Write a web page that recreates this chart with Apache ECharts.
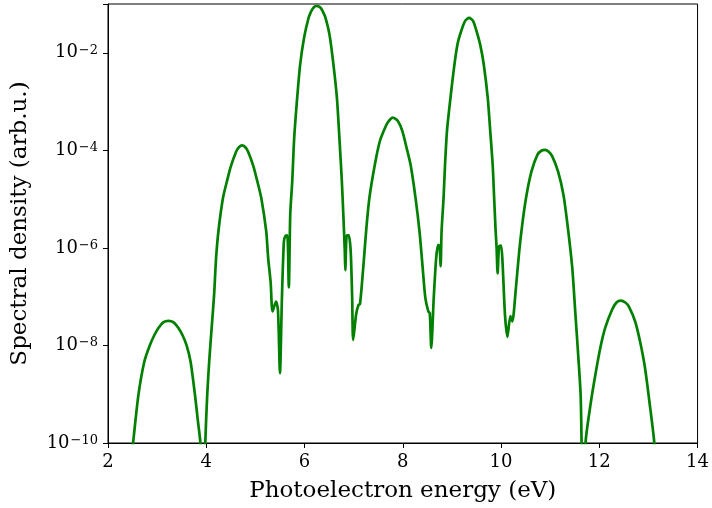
<!DOCTYPE html>
<html>
<head>
<meta charset="utf-8">
<script src="https://cdn.jsdelivr.net/npm/echarts@6/dist/echarts.min.js"></script>
<style>
  html, body { margin: 0; padding: 0; background: #ffffff; }
  #chart { width: 712px; height: 508px; }
</style>
</head>
<body>
<div id="chart"></div>
<script>
// Photoelectron energy (eV)
const energy = [
  2.40, 2.51, 2.62, 2.74, 2.85, 2.94, 3.03, 3.13, 3.23, 3.33, 3.43, 3.52, 3.60, 3.68, 3.77, 3.83, 3.88, 3.93,
  3.98, 4.02, 4.06, 4.11, 4.16, 4.20, 4.25, 4.34, 4.42, 4.50, 4.61, 4.67, 4.73, 4.79, 4.85, 4.96, 5.04, 5.12,
  5.22, 5.26, 5.31, 5.35, 5.42, 5.46, 5.50, 5.54, 5.58, 5.61, 5.65, 5.68, 5.71, 5.75, 5.79, 5.85, 5.91, 5.99,
  6.08, 6.13, 6.17, 6.21, 6.25, 6.29, 6.33, 6.37, 6.42, 6.51, 6.59, 6.66, 6.71, 6.76, 6.79, 6.82, 6.83, 6.86,
  6.90, 6.94, 6.97, 6.99, 7.05, 7.10, 7.13, 7.20, 7.26, 7.32, 7.43, 7.53, 7.62, 7.70, 7.80, 7.90, 7.99, 8.08,
  8.16, 8.26, 8.34, 8.40, 8.46, 8.52, 8.55, 8.58, 8.63, 8.68, 8.72, 8.75, 8.77, 8.79, 8.83, 8.86, 8.90, 8.97,
  9.05, 9.12, 9.19, 9.27, 9.35, 9.43, 9.50, 9.58, 9.65, 9.73, 9.78, 9.83, 9.86, 9.89, 9.91, 9.93, 9.96, 10.00,
  10.03, 10.08, 10.13, 10.19, 10.23, 10.30, 10.37, 10.44, 10.52, 10.62, 10.74, 10.82, 10.90, 10.97, 11.04, 11.16,
  11.27, 11.36, 11.45, 11.51, 11.57, 11.62, 11.64, 11.68, 11.72, 11.82, 11.92, 12.02, 12.12, 12.26, 12.35, 12.44,
  12.53, 12.60, 12.73, 12.83, 12.93, 13.02, 13.12, 13.18
];
// Spectral density (arb.u.)
const density = [
  1.0e-11, 1.0e-10, 9.8e-10, 4.7e-9, 1.0e-8, 1.6e-8, 2.3e-8, 3.0e-8, 3.2e-8, 3.0e-8, 2.3e-8, 1.6e-8, 1.0e-8, 4.7e-9, 9.8e-10, 2.8e-10, 1.0e-10, 1.0e-12,
  1.0e-10, 9.8e-10, 4.7e-9, 2.3e-8, 1.1e-7, 6.2e-7, 2.3e-6, 1.05e-5, 2.3e-5, 4.7e-5, 9.5e-5, 1.17e-4, 1.26e-4, 1.17e-4, 9.5e-5, 4.7e-5, 2.3e-5, 1.05e-5,
  2.2e-6, 6.2e-7, 2.0e-7, 5.0e-8, 7.9e-8, 5.2e-8, 2.7e-9, 9.3e-8, 1.35e-6, 1.74e-6, 1.8e-6, 1.55e-7, 5.0e-6, 2.3e-5, 1.8e-4, 1.17e-3, 5.6e-3, 0.020,
  0.051, 0.069, 0.081, 0.089, 0.091, 0.089, 0.083, 0.071, 0.055, 0.023, 5.6e-3, 1.17e-3, 1.8e-4, 2.3e-5, 4.8e-6, 8.5e-7, 3.5e-7, 1.8e-6,
  1.8e-6, 8.5e-7, 9.3e-8, 1.3e-8, 4.3e-8, 6.8e-8, 7.1e-8, 4.5e-7, 2.6e-6, 1.05e-5, 5.0e-5, 1.5e-4, 2.6e-4, 3.8e-4, 4.7e-4, 4.0e-4, 2.5e-4, 1.1e-4,
  5.0e-5, 1.05e-5, 2.2e-6, 4.5e-7, 9.3e-8, 5.0e-8, 4.6e-8, 8.9e-9, 9.3e-8, 6.2e-7, 1.15e-6, 1.07e-6, 4.2e-7, 2.2e-6, 1.05e-5, 5.0e-5, 2.5e-4, 1.17e-3,
  5.6e-3, 0.016, 0.028, 0.045, 0.052, 0.045, 0.028, 0.014, 5.6e-3, 1.17e-3, 2.5e-4, 5.0e-5, 1.05e-5, 2.2e-6, 1.0e-6, 3.0e-7, 1.07e-6, 1.12e-6,
  5.2e-7, 4.3e-8, 1.5e-8, 4.0e-8, 3.1e-8, 1.4e-7, 8.5e-7, 3.5e-6, 1.23e-5, 3.7e-5, 8.1e-5, 9.8e-5, 1.02e-4, 9.3e-5, 7.6e-5, 3.7e-5,
  1.23e-5, 2.6e-6, 3.9e-7, 5.0e-8, 6.5e-9, 9.8e-10, 1.0e-10, 1.0e-12, 1.0e-10, 6.0e-10, 2.5e-9, 8.9e-9, 2.3e-8, 5.4e-8, 7.6e-8, 8.3e-8,
  7.6e-8, 6.3e-8, 3.1e-8, 1.2e-8, 3.5e-9, 7.1e-10, 1.0e-10, 1.0e-11
];
const xTicks = [2, 4, 6, 8, 10, 12, 14];
const yTickExponents = [-10, -8, -6, -4, -2];

const FONT = '"DejaVu Serif", serif';
const chart = echarts.init(document.getElementById('chart'), null, { renderer: 'canvas' });

function yLabel(v) {
  const e = Math.round(Math.log10(v));
  if (yTickExponents.indexOf(e) < 0) return '';
  return '{b|10}{s|' + (e < 0 ? '\u2212' : '') + Math.abs(e) + '}';
}

chart.setOption({
  animation: false,
  backgroundColor: '#ffffff',
  grid: { left: 108, right: 11, top: 4, bottom: 63, show: true, borderColor: '#000', borderWidth: 1, backgroundColor: 'transparent' },
  xAxis: {
    type: 'value',
    min: xTicks[0], max: xTicks[xTicks.length - 1], interval: 2,
    name: 'Photoelectron energy (eV)',
    nameLocation: 'middle', nameGap: 37,
    nameTextStyle: { fontFamily: FONT, fontSize: 23, color: '#000' },
    axisLine: { show: true, lineStyle: { color: '#000', width: 1 } },
    axisTick: { show: true, length: 5, lineStyle: { color: '#000', width: 1 } },
    axisLabel: { fontFamily: FONT, fontSize: 18, color: '#000', margin: 10,
      formatter: v => (xTicks.indexOf(v) >= 0 ? String(v) : '') },
    splitLine: { show: false }
  },
  yAxis: {
    type: 'log', logBase: 10,
    min: 1e-10, max: 1e-1, interval: 2,
    name: 'Spectral density (arb.u.)',
    nameLocation: 'middle', nameGap: 76,
    nameTextStyle: { fontFamily: FONT, fontSize: 23, color: '#000' },
    axisLine: { show: true, lineStyle: { color: '#000', width: 1 } },
    axisTick: { show: true, length: 5, lineStyle: { color: '#000', width: 1 } },
    minorTick: { show: false },
    axisLabel: {
      fontFamily: FONT, color: '#000', margin: 10,
      formatter: yLabel,
      rich: {
        b: { fontFamily: FONT, fontSize: 18, color: '#000' },
        s: { fontFamily: FONT, fontSize: 13, color: '#000', verticalAlign: 'top', padding: [0, 0, 0, 1] }
      }
    },
    splitLine: { show: false }
  },
  series: [{
    type: 'line',
    data: energy.map((x, i) => [x, density[i]]),
    showSymbol: false,
    clip: true,
    smooth: 0.25,
    lineStyle: { color: '#008000', width: 2.7 },
    itemStyle: { color: '#008000' }
  }]
});
</script>
</body>
</html>
